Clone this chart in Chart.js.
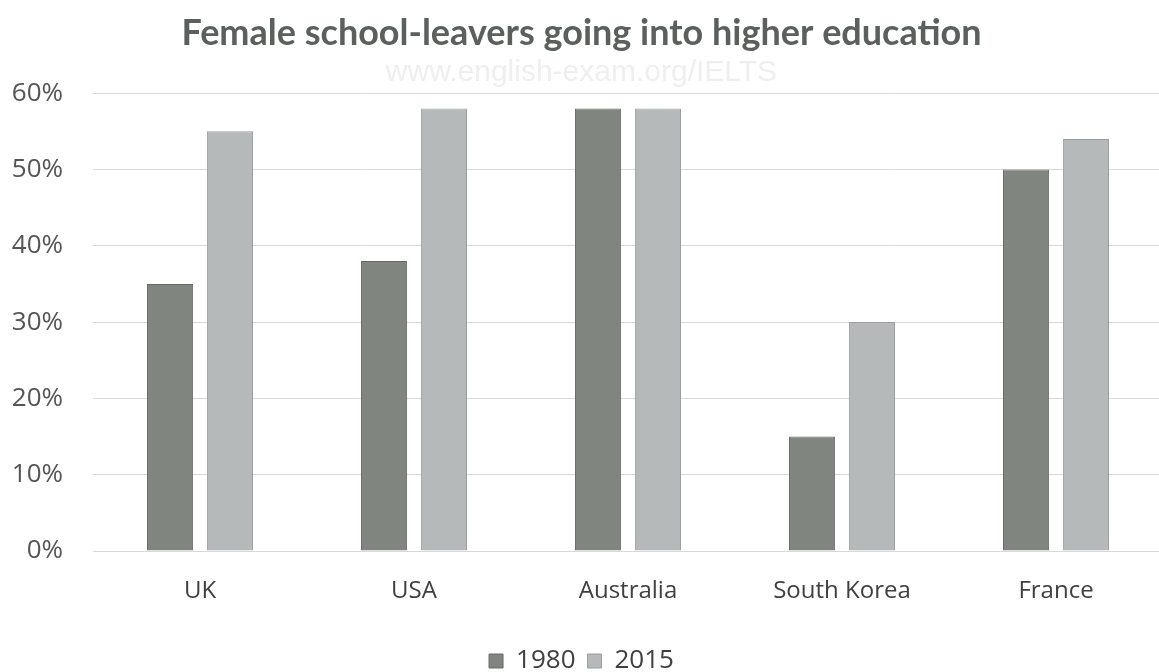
<!DOCTYPE html>
<html>
<head>
<meta charset="utf-8">
<script src="https://cdn.jsdelivr.net/npm/chart.js@4/dist/chart.umd.min.js"></script>
<style>
  html, body { margin: 0; padding: 0; background: #fff; overflow: hidden; }
  #wrap { width: 1172px; height: 672px; }
</style>
</head>
<body>
<div id="wrap"><canvas id="chart"></canvas></div>
<script>
// values (percent)
var countries = ['UK', 'USA', 'Australia', 'South Korea', 'France'];
var years = ['1980', '2015'];
var values1980 = [35, 38, 58, 15, 50];
var values2015 = [55, 58, 58, 30, 54];
var yTicks = [0, 10, 20, 30, 40, 50, 60];

var textFont = "'Open Sans', 'Noto Sans', sans-serif";

var ctx = document.getElementById('chart').getContext('2d');
var chart = new Chart(ctx, {
    type: 'bar',
    data: {
        labels: countries,
        datasets: [{
            label: years[0],
            data: values1980,
            backgroundColor: '#80857f',
            borderColor: '#676b67',
            borderWidth: 1
        }, {
            label: years[1],
            data: values2015,
            backgroundColor: '#b5b9b9',
            borderColor: '#9a9e9e',
            borderWidth: 1
        }]
    },
    options: {
        responsive: true,
        maintainAspectRatio: false,
        animation: false,
        categoryPercentage: 0.56,
        barPercentage: 0.77,
        // negative bottom padding pushes the legend down to the edge
        layout: { padding: { top: 0, right: 9, bottom: -12, left: 0 } },
        plugins: {
            title: {
                display: true,
                text: 'Female school-leavers going into higher education',
                color: '#5b605d',
                font: { family: "Lato, 'Open Sans', sans-serif", size: 36, weight: 'bold' },
                padding: { top: 12, bottom: 0 }
            },
            subtitle: {
                display: true,
                text: 'www.english-exam.org/IELTS',
                color: '#efefef',
                font: { family: "'Liberation Sans', sans-serif", size: 30 },
                padding: { top: 0, bottom: 2 }
            },
            legend: {
                position: 'bottom',
                labels: {
                    color: '#404040',
                    font: { family: textFont, size: 26 },
                    boxWidth: 14,
                    boxHeight: 14,
                    padding: 12
                }
            },
            tooltip: { enabled: false }
        },
        scales: {
            x: {
                afterFit: function (s) { s.height = 85; },
                grid: { display: false },
                border: { display: false },
                ticks: {
                    color: '#404040',
                    font: { family: textFont, size: 24 },
                    padding: 18
                }
            },
            y: {
                min: 0,
                max: 60,
                afterFit: function (s) { s.width = 93; },
                afterBuildTicks: function (s) {
                    s.ticks = yTicks.map(function (v) { return { value: v }; });
                },
                grid: { color: '#d9d9d9', drawTicks: false },
                border: { display: false },
                ticks: {
                    color: '#555555',
                    font: { family: textFont, size: 26 },
                    padding: 30,
                    callback: function (v) { return v + '%'; }
                }
            }
        }
    }
});
</script>
</body>
</html>
